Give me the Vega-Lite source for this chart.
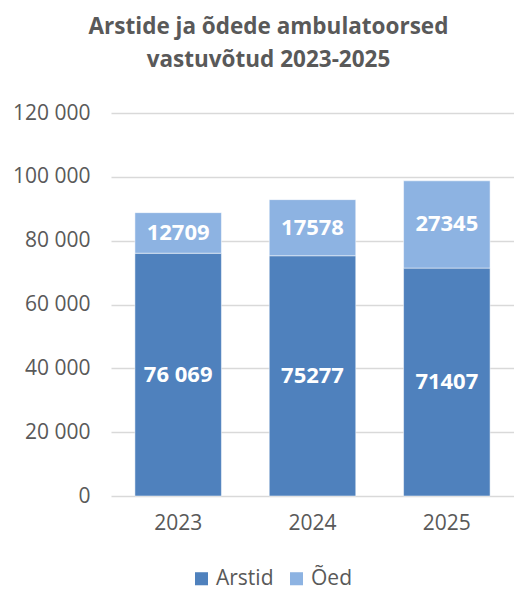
{
  "$schema": "https://vega.github.io/schema/vega-lite/v6.json",
  "autosize": {"type": "none"},
  "padding": {"left": 111, "top": 113, "right": 0, "bottom": 93},
  "width": 403,
  "height": 383,
  "background": "white",
  "title": {
    "text": ["Arstide ja õdede ambulatoorsed", "vastuvõtud 2023-2025"],
    "font": "Open Sans",
    "fontSize": 22.5,
    "fontWeight": "bold",
    "color": "#595959",
    "anchor": "middle",
    "frame": "group",
    "dx": -44,
    "offset": 31,
    "lineHeight": 33
  },
  "data": {
    "values": [
      {"year": "2023", "series": "Arstid", "value": 76069, "label": "76 069"},
      {"year": "2024", "series": "Arstid", "value": 75277, "label": "75277"},
      {"year": "2025", "series": "Arstid", "value": 71407, "label": "71407"},
      {"year": "2023", "series": "Õed", "value": 12709, "label": "12709"},
      {"year": "2024", "series": "Õed", "value": 17578, "label": "17578"},
      {"year": "2025", "series": "Õed", "value": 27345, "label": "27345"}
    ]
  },
  "transform": [
    {"calculate": "datum.series === 'Arstid' ? 0 : 1", "as": "ord"},
    {"stack": "value", "groupby": ["year"], "sort": [{"field": "ord", "order": "ascending"}], "as": ["v0", "v1"]},
    {"calculate": "(datum.v0 + datum.v1) / 2", "as": "mid"}
  ],
  "encoding": {
    "x": {
      "field": "year",
      "type": "nominal",
      "title": null,
      "scale": {"paddingInner": 0.356, "paddingOuter": 0.178},
      "axis": {
        "labelAngle": 0,
        "labelFont": "Open Sans",
        "labelFontSize": 21,
        "labelColor": "#595959",
        "ticks": false,
        "domain": false,
        "labelPadding": 16
      }
    }
  },
  "layer": [
    {
      "mark": {"type": "bar", "stroke": "white", "strokeWidth": 0.5},
      "encoding": {
        "y": {
          "field": "v0",
          "type": "quantitative",
          "title": null,
          "scale": {"domain": [0, 120000], "nice": false},
          "axis": {
            "values": [0, 20000, 40000, 60000, 80000, 100000, 120000],
            "labelExpr": "replace(format(datum.value, ','), ',', ' ')",
            "labelFont": "Open Sans",
            "labelFontSize": 21,
            "labelColor": "#595959",
            "ticks": false,
            "domain": false,
            "labelPadding": 21,
            "gridColor": "#d9d9d9",
            "gridWidth": 1.5
          }
        },
        "y2": {"field": "v1"},
        "color": {
          "field": "series",
          "type": "nominal",
          "scale": {"domain": ["Arstid", "Õed"], "range": ["#4f81bd", "#8db3e2"]},
          "legend": {
            "title": null,
            "orient": "none",
            "direction": "horizontal",
            "legendX": 80,
            "legendY": 455,
            "symbolType": "square",
            "symbolSize": 170,
            "symbolStrokeWidth": 0,
            "labelFont": "Open Sans",
            "labelFontSize": 21,
            "labelColor": "#595959",
            "columnPadding": 12,
            "labelOffset": 4
          }
        }
      }
    },
    {
      "mark": {"type": "text", "font": "Open Sans", "fontSize": 22, "fontWeight": "bold", "color": "white", "baseline": "middle"},
      "encoding": {
        "y": {"field": "mid", "type": "quantitative"},
        "text": {"field": "label"}
      }
    }
  ],
  "config": {"view": {"stroke": null}}
}
